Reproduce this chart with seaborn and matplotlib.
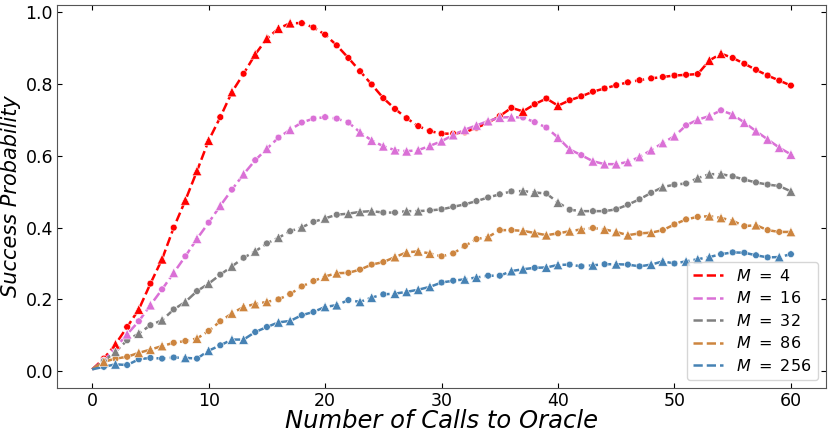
import numpy as np
import pandas as pd
import matplotlib
matplotlib.use('Agg')
import matplotlib.pyplot as plt
import seaborn as sns

calls = list(range(61))

m_values = [4, 16, 32, 86, 256]
colors = ['#ff0000', '#da70d6', '#808080', '#cd853f', '#4682b4']

p_m4 = [0.005, 0.035, 0.075, 0.123, 0.172, 0.244, 0.312, 0.400, 0.476, 0.558,
        0.643, 0.708, 0.778, 0.829, 0.883, 0.927, 0.955, 0.970, 0.970, 0.958,
        0.938, 0.908, 0.873, 0.836, 0.799, 0.761, 0.731, 0.705, 0.683, 0.669,
        0.662, 0.662, 0.666, 0.678, 0.693, 0.711, 0.734, 0.724, 0.744, 0.760,
        0.740, 0.755, 0.766, 0.779, 0.788, 0.797, 0.805, 0.811, 0.816, 0.820,
        0.824, 0.826, 0.828, 0.866, 0.885, 0.873, 0.857, 0.840, 0.824, 0.810, 0.796]
p_m16 = [0.005, 0.030, 0.065, 0.103, 0.139, 0.184, 0.228, 0.274, 0.320, 0.369,
         0.414, 0.461, 0.506, 0.549, 0.588, 0.620, 0.651, 0.673, 0.693, 0.704,
         0.708, 0.704, 0.693, 0.666, 0.643, 0.627, 0.616, 0.613, 0.616, 0.628,
         0.641, 0.658, 0.673, 0.685, 0.697, 0.707, 0.708, 0.707, 0.694, 0.679,
         0.651, 0.618, 0.602, 0.585, 0.577, 0.577, 0.583, 0.597, 0.616, 0.636,
         0.655, 0.685, 0.701, 0.711, 0.727, 0.715, 0.693, 0.669, 0.646, 0.623, 0.604]
p_m32 = [0.005, 0.028, 0.054, 0.086, 0.105, 0.128, 0.142, 0.172, 0.193, 0.223,
         0.244, 0.269, 0.292, 0.316, 0.334, 0.356, 0.372, 0.390, 0.401, 0.416,
         0.426, 0.436, 0.439, 0.444, 0.446, 0.442, 0.442, 0.446, 0.446, 0.448,
         0.451, 0.458, 0.465, 0.474, 0.484, 0.493, 0.501, 0.502, 0.498, 0.495,
         0.470, 0.450, 0.446, 0.446, 0.446, 0.451, 0.464, 0.479, 0.497, 0.513,
         0.520, 0.523, 0.538, 0.549, 0.549, 0.543, 0.534, 0.526, 0.520, 0.516, 0.501]
p_m86 = [0.005, 0.026, 0.035, 0.040, 0.051, 0.060, 0.070, 0.079, 0.084, 0.091,
         0.112, 0.139, 0.161, 0.179, 0.187, 0.193, 0.200, 0.215, 0.236, 0.251,
         0.264, 0.273, 0.274, 0.283, 0.297, 0.304, 0.318, 0.331, 0.334, 0.328,
         0.320, 0.328, 0.349, 0.368, 0.374, 0.393, 0.393, 0.391, 0.385, 0.379,
         0.384, 0.390, 0.395, 0.399, 0.395, 0.388, 0.379, 0.384, 0.386, 0.393,
         0.409, 0.423, 0.430, 0.432, 0.427, 0.419, 0.404, 0.407, 0.393, 0.388, 0.388]
p_m256 = [0.005, 0.012, 0.019, 0.017, 0.033, 0.037, 0.035, 0.038, 0.037, 0.035,
          0.057, 0.072, 0.088, 0.088, 0.109, 0.123, 0.136, 0.140, 0.156, 0.165,
          0.179, 0.184, 0.198, 0.193, 0.205, 0.214, 0.216, 0.221, 0.227, 0.235,
          0.247, 0.252, 0.256, 0.261, 0.266, 0.266, 0.279, 0.284, 0.288, 0.289,
          0.296, 0.297, 0.292, 0.295, 0.298, 0.298, 0.297, 0.292, 0.297, 0.306,
          0.300, 0.306, 0.312, 0.318, 0.326, 0.331, 0.330, 0.323, 0.317, 0.318, 0.326]

# marker per point: 'o' circle, '^' triangle, '-' none
mk_m4 = "-o^o^o^o^^^o^o^^^^oo" + "o" * 17 + "^oo" + "^" + "o" * 12 + "^^" + "o" * 6
mk_m16 = "-oo^o^o^o^o^o^o^o^oo" + "ooo" + "^" * 14 + "ooo" + "^^o" + "^" * 8 + "o^^o" + "^" * 6
mk_m32 = "-o^o^o^o^o^o^o^o^o^o" + "^o^^^oo^^" + "o" * 8 + "^^o" + "^o^" + "o" * 6 + "^oo^^^" + "o" * 5 + "^"
mk_m86 = "-^oo^^^oo^oo^^^^oooo" + "^^oooo^^^^oooo^oo^^^" + "o^^o^^^o^oooo^^^o^oo^"
mk_m256 = "-o^ooooo^o^o^^oo^^oo" + "^^o^^o^^^^oo^^oo^^o^" + "^oo^o^oo^^o^^^ooooo^o"

series = [p_m4, p_m16, p_m32, p_m86, p_m256]
marks = [mk_m4, mk_m16, mk_m32, mk_m86, mk_m256]
labels = [r'$M\ =\ %d$' % m for m in m_values]

rows = []
for lab, vals, mk in zip(labels, series, marks):
    assert len(vals) == 61 and len(mk) == 61
    for x, v, k in zip(calls, vals, mk):
        rows.append({'calls': x, 'prob': v, 'label': lab, 'marker': k})
df = pd.DataFrame(rows)
palette = dict(zip(labels, colors))

fig, ax = plt.subplots(figsize=(8.3, 4.34), dpi=100)
fig.subplots_adjust(left=0.069, right=0.995, bottom=0.106, top=0.988)

sns.lineplot(data=df, x='calls', y='prob', hue='label', hue_order=labels,
             palette=palette, linestyle='--', linewidth=1.8, legend=False, ax=ax)

circ = df[df['marker'] == 'o']
tri = df[df['marker'] == '^']
sns.scatterplot(data=circ, x='calls', y='prob', hue='label', hue_order=labels,
                palette=palette, marker='o', s=24, edgecolor='white',
                linewidth=0.4, legend=False, ax=ax, zorder=3)
sns.scatterplot(data=tri, x='calls', y='prob', hue='label', hue_order=labels,
                palette=palette, marker='^', s=48, edgecolor='white',
                linewidth=0.4, legend=False, ax=ax, zorder=3)

ax.set_xlim(-3, 63)
ax.set_ylim(-0.047, 1.02)
ax.set_xticks([0, 10, 20, 30, 40, 50, 60])
ax.set_yticks([0.0, 0.2, 0.4, 0.6, 0.8, 1.0])
ax.tick_params(direction='in', top=True, right=True, labelsize=12.5, pad=3)
for sp in ax.spines.values():
    sp.set_color('#555555')

ax.set_xlabel('Number of Calls to Oracle', fontsize=17.5, fontstyle='italic', labelpad=-1)
ax.set_ylabel('Success Probability', fontsize=15, fontstyle='italic', labelpad=3)

ax.legend(handles=ax.lines[:5], labels=labels, loc='lower right',
          fontsize=11.5, handlelength=1.9, labelspacing=0.4)

fig.savefig('out.png', dpi=100)
